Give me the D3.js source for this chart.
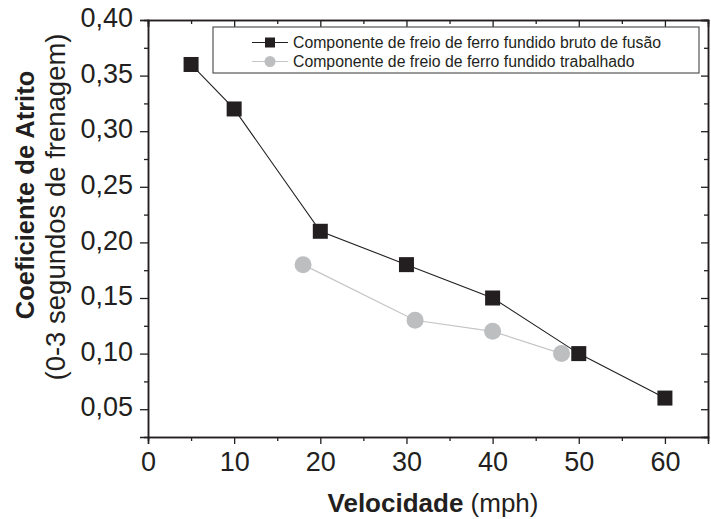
<!DOCTYPE html>
<html lang="pt">
<head>
<meta charset="UTF-8">
<title>Coeficiente de Atrito</title>
<script src="https://d3js.org/d3.v7.min.js"></script>
<style>
  body { margin: 0; padding: 0; background: #fff; }
  text { font-family: "Liberation Sans", Arial, sans-serif; fill: #231f20; }
</style>
</head>
<body>
<div id="chart"></div>
<script>
// data
var brutoX = [5, 10, 20, 30, 40, 50, 60];
var brutoY = [0.36, 0.32, 0.21, 0.18, 0.15, 0.10, 0.06];
var trabX = [18, 31, 40, 48];
var trabY = [0.18, 0.13, 0.12, 0.10];
var xTicks = [0, 10, 20, 30, 40, 50, 60];
var yTicks = [0.05, 0.10, 0.15, 0.20, 0.25, 0.30, 0.35, 0.40];
var seriesNames = ["Componente de freio de ferro fundido bruto de fusão",
                   "Componente de freio de ferro fundido trabalhado"];

var width = 711, height = 519;
var plotLeft = 148, plotRight = 708, plotTop = 20, plotBottom = 437;
var ink = "#231f20";

var x = d3.scaleLinear().domain([0, 65]).range([plotLeft, plotRight]);
var y = d3.scaleLinear().domain([0.025, 0.40]).range([plotBottom, plotTop]);

var svg = d3.select("#chart").append("svg")
    .attr("width", width)
    .attr("height", height);

var fmt = function(d) { return d3.format(".2f")(d).replace(".", ","); };
var xMinor = d3.range(5, 65, 10);
var yMinor = d3.range(0.075, 0.40, 0.05);

// bottom axis (ticks out)
var gx = svg.append("g").attr("transform", "translate(0," + plotBottom + ")")
    .call(d3.axisBottom(x).tickValues(xTicks).tickSize(7).tickPadding(9).tickFormat(d3.format("d")));
svg.append("g").attr("transform", "translate(0," + plotBottom + ")")
    .call(d3.axisBottom(x).tickValues(xMinor).tickSize(4).tickFormat(""));

// left axis (ticks out)
var gy = svg.append("g").attr("transform", "translate(" + plotLeft + ",0)")
    .call(d3.axisLeft(y).tickValues(yTicks).tickSize(8).tickPadding(7).tickFormat(fmt));
svg.append("g").attr("transform", "translate(" + plotLeft + ",0)")
    .call(d3.axisLeft(y).tickValues(yMinor).tickSize(4).tickFormat(""));

// top axis (ticks in)
svg.append("g").attr("transform", "translate(0," + plotTop + ")")
    .call(d3.axisTop(x).tickValues(xTicks).tickSize(-7).tickFormat(""));
svg.append("g").attr("transform", "translate(0," + plotTop + ")")
    .call(d3.axisTop(x).tickValues(xMinor).tickSize(-4).tickFormat(""));

// right axis (ticks in)
svg.append("g").attr("transform", "translate(" + plotRight + ",0)")
    .call(d3.axisRight(y).tickValues(yTicks).tickSize(-7).tickFormat(""));
svg.append("g").attr("transform", "translate(" + plotRight + ",0)")
    .call(d3.axisRight(y).tickValues(yMinor).tickSize(-4).tickFormat(""));

svg.selectAll(".domain").attr("stroke", ink).attr("stroke-width", 1.5);
svg.selectAll(".tick line").attr("stroke", ink).attr("stroke-width", 1.3);
svg.selectAll(".tick text").style("font-size", "27px").attr("fill", ink)
    .style("font-family", "'Liberation Sans', Arial, sans-serif");
gy.selectAll(".tick text").attr("dy", "0.25em");
gx.selectAll(".tick text").attr("dy", "0.68em");

// series
var bruto = brutoX.map(function(d, i) { return [d, brutoY[i]]; });
var trab = trabX.map(function(d, i) { return [d, trabY[i]]; });
var line = d3.line().x(function(d) { return x(d[0]); }).y(function(d) { return y(d[1]); });

svg.append("path").datum(trab).attr("d", line)
    .attr("fill", "none").attr("stroke", "#c4c5c7").attr("stroke-width", 1.2);
svg.append("path").datum(bruto).attr("d", line)
    .attr("fill", "none").attr("stroke", ink).attr("stroke-width", 1.1);

svg.selectAll(".trab").data(trab).enter().append("circle")
    .attr("cx", function(d) { return x(d[0]); })
    .attr("cy", function(d) { return y(d[1]); })
    .attr("r", 8.5)
    .attr("fill", "#bcbec0");

var sq = 15;
svg.selectAll(".bruto").data(bruto).enter().append("rect")
    .attr("x", function(d) { return x(d[0]) - sq / 2; })
    .attr("y", function(d) { return y(d[1]) - sq / 2; })
    .attr("width", sq).attr("height", sq)
    .attr("fill", ink);

// legend
var legend = svg.append("g").attr("transform", "translate(213,27)");
legend.append("rect").attr("width", 486).attr("height", 46)
    .attr("fill", "#fff").attr("stroke", "#555").attr("stroke-width", 1.2);

var items = legend.selectAll(".item").data(seriesNames).enter().append("g")
    .attr("transform", function(d, i) { return "translate(0," + (15.5 + i * 19) + ")"; });
items.append("line").attr("x1", 39).attr("x2", 75)
    .attr("stroke", function(d, i) { return i === 0 ? ink : "#c4c5c7"; })
    .attr("stroke-width", 1.2);
items.filter(function(d, i) { return i === 0; }).append("rect")
    .attr("x", 52).attr("y", -5).attr("width", 10).attr("height", 10).attr("fill", ink);
items.filter(function(d, i) { return i === 1; }).append("circle")
    .attr("cx", 57).attr("r", 5.5).attr("fill", "#bcbec0");
items.append("text").attr("x", 80).attr("dy", "0.35em")
    .style("font-size", "15.8px").text(function(d) { return d; });

// axis titles
var xt = svg.append("text").attr("x", 433).attr("y", 512)
    .attr("text-anchor", "middle").style("font-size", "26px");
xt.append("tspan").style("font-weight", "bold").text("Velocidade");
xt.append("tspan").text(" (mph)");

svg.append("text").attr("transform", "translate(34,195) rotate(-90)")
    .attr("text-anchor", "middle").style("font-size", "25.5px").style("font-weight", "bold")
    .text("Coeficiente de Atrito");
svg.append("text").attr("transform", "translate(65,207) rotate(-90)")
    .attr("text-anchor", "middle").style("font-size", "27.5px")
    .text("(0-3 segundos de frenagem)");
</script>
</body>
</html>
